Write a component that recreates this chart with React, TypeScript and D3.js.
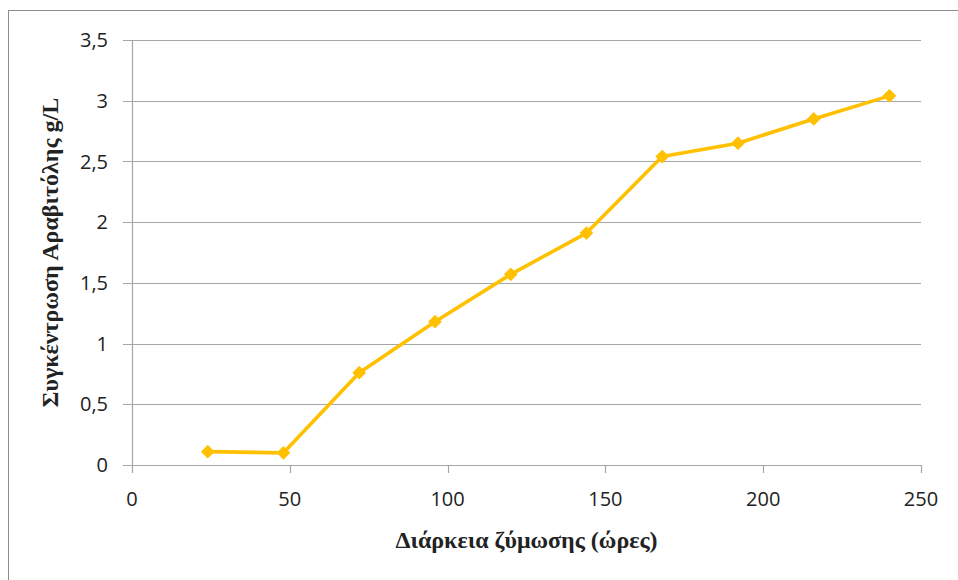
import React from "react";
import * as d3 from "d3";

// Fermentation time (hours) and arabitol concentration (g/L)
const hours = [24, 48, 72, 96, 120, 144, 168, 192, 216, 240];
const arabitol = [0.11, 0.1, 0.76, 1.18, 1.57, 1.91, 2.54, 2.65, 2.85, 3.04];
const xTicks = [0, 50, 100, 150, 200, 250];
const yTicks = [0, 0.5, 1, 1.5, 2, 2.5, 3, 3.5];
const xTitle = "Διάρκεια ζύμωσης (ώρες)";
const yTitle = "Συγκέντρωση Αραβιτόλης g/L";

const W = 958;
const H = 580;
const left = 132;
const right = 921;
const top = 40;
const bottom = 465;

const gridColor = "#A6A6A6";
const lineColor = "#FFC000";

export default function App() {
  const x = d3.scaleLinear().domain([0, 250]).range([left, right]);
  const y = d3.scaleLinear().domain([0, 3.5]).range([bottom, top]);
  const fmt = (v: number) => String(v).replace(".", ",");
  const line = d3
    .line<number>()
    .x((_, i) => x(hours[i]))
    .y((d) => y(d));
  const diamond = d3.symbol(d3.symbolDiamond2, 120)() as string;

  return (
    <svg
      width={W}
      height={H}
      style={{ position: "absolute", left: 0, top: 0, background: "#fff" }}
    >
      <rect x={8.5} y={10.5} width={1000} height={1000} fill="#fff" stroke="#8C8C8C" strokeWidth={1} />

      {yTicks.map((t) => (
        <g key={"y" + t}>
          <line x1={left - 9} x2={right} y1={Math.round(y(t)) + 0.5} y2={Math.round(y(t)) + 0.5} stroke={gridColor} strokeWidth={1.2} />
          <text
            x={108}
            y={y(t)}
            dy="0.36em"
            textAnchor="end"
            fontFamily="'Open Sans', sans-serif"
            fontSize={20}
            fill="#222"
          >
            {fmt(t)}
          </text>
        </g>
      ))}

      <line x1={left + 0.5} x2={left + 0.5} y1={top} y2={bottom} stroke={gridColor} strokeWidth={1.2} />
      {xTicks.map((t) => (
        <g key={"x" + t}>
          <line x1={Math.round(x(t)) + 0.5} x2={Math.round(x(t)) + 0.5} y1={bottom} y2={bottom + 8} stroke={gridColor} strokeWidth={1.2} />
          <text
            x={x(t)}
            y={506}
            textAnchor="middle"
            fontFamily="'Open Sans', sans-serif"
            fontSize={20}
            fill="#222"
          >
            {t}
          </text>
        </g>
      ))}

      <path d={line(arabitol) ?? ""} fill="none" stroke={lineColor} strokeWidth={3.6} strokeLinejoin="round" />
      {arabitol.map((v, i) => (
        <path key={"m" + i} d={diamond} transform={`translate(${x(hours[i])},${y(v)})`} fill={lineColor} />
      ))}

      <text
        x={(left + right) / 2}
        y={548}
        textAnchor="middle"
        fontFamily="'Liberation Serif', serif"
        fontWeight="bold"
        fontSize={24}
        fill="#222"
      >
        {xTitle}
      </text>
      <text
        transform={`translate(58,${(top + bottom) / 2}) rotate(-90)`}
        textAnchor="middle"
        fontFamily="'Liberation Serif', serif"
        fontWeight="bold"
        fontSize={24}
        fill="#222"
      >
        {yTitle}
      </text>
    </svg>
  );
}
